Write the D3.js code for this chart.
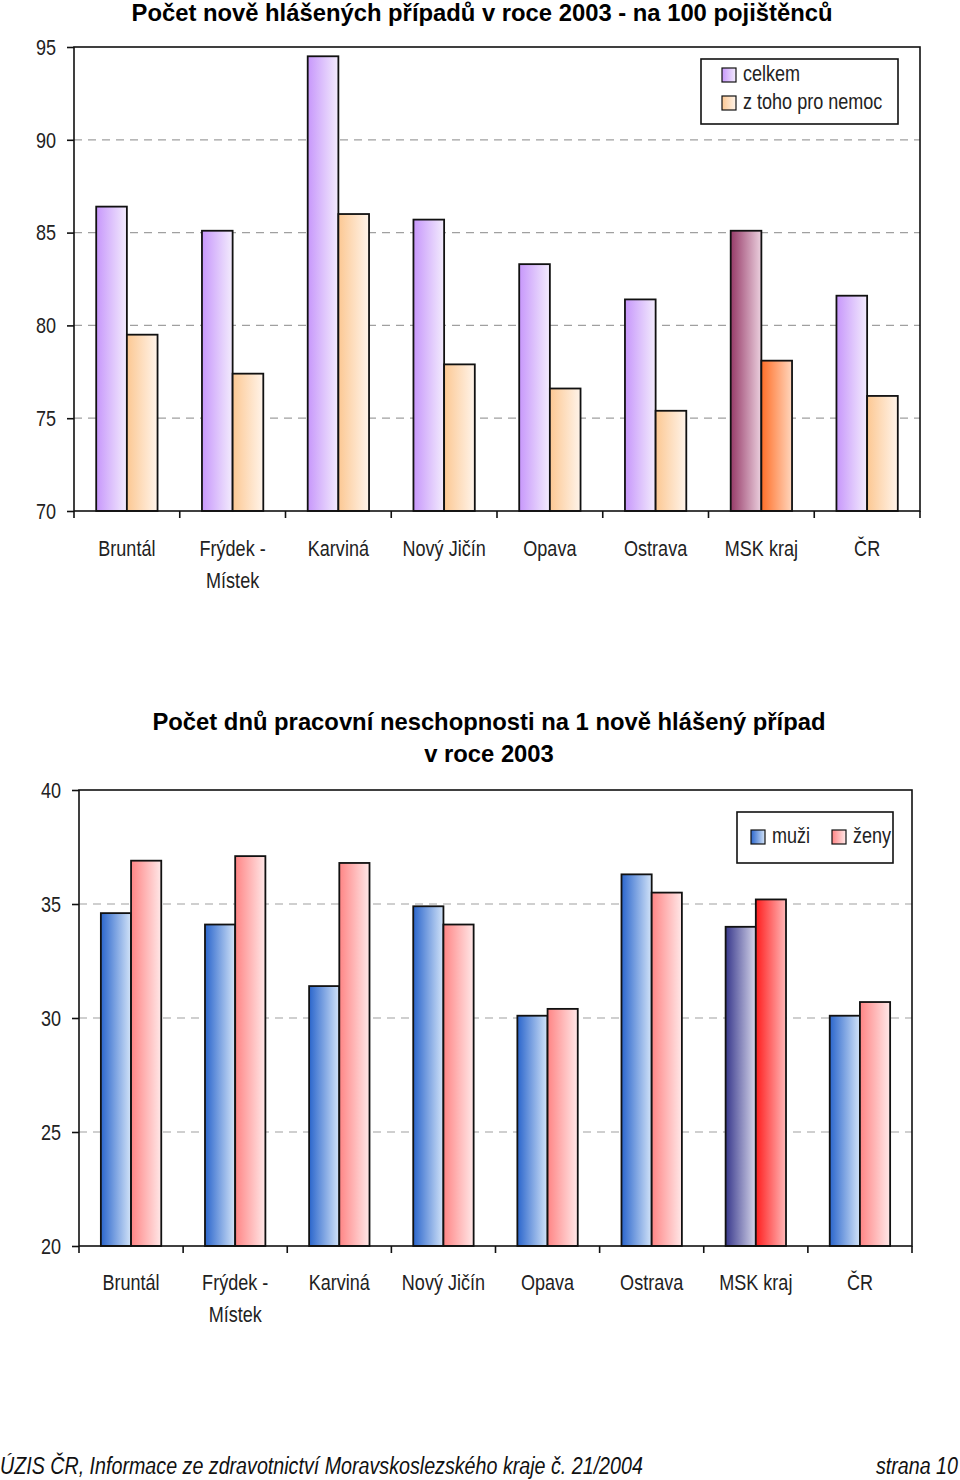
<!DOCTYPE html>
<html><head><meta charset="utf-8">
<script src="https://cdn.jsdelivr.net/npm/d3@7"></script>
<style>
body{margin:0;background:#fff;}
svg{display:block;}
.n{font-family:"Liberation Sans",Arial,sans-serif;}
.b{font-family:"Liberation Sans",Arial,sans-serif;font-weight:bold;}
</style></head>
<body>
<svg id="c" width="960" height="1480"></svg>
<script>
const categories = ["Bruntál","Frýdek - Místek","Karviná","Nový Jičín","Opava","Ostrava","MSK kraj","ČR"];
const celkem = [86.4,85.1,94.5,85.7,83.3,81.4,85.1,81.6];
const nemoc  = [79.5,77.4,86.0,77.9,76.6,75.4,78.1,76.2];
const muzi   = [34.6,34.1,31.4,34.9,30.1,36.3,34.0,30.1];
const zeny   = [36.9,37.1,36.8,34.1,30.4,35.5,35.2,30.7];
const ticksTop = [70,75,80,85,90,95];
const ticksBottom = [20,25,30,35,40];
const title1 = ["Počet nově hlášených případů v roce 2003 - na 100 pojištěnců"];
const title2 = ["Počet dnů pracovní neschopnosti na 1 nově hlášený případ","v roce 2003"];
const seriesTop = ["celkem","z toho pro nemoc"];
const seriesBottom = ["muži","ženy"];
const footerLeft = "ÚZIS ČR, Informace ze zdravotnictví Moravskoslezského kraje č. 21/2004";
const footerRight = "strana 10";

const svg = d3.select("#c");
const defs = svg.append("defs");
function grad(id, c0, c1){
  const g = defs.append("linearGradient").attr("id",id).attr("x1","0%").attr("x2","100%").attr("y1","0%").attr("y2","0%");
  g.append("stop").attr("offset","0%").attr("stop-color",c0);
  g.append("stop").attr("offset","100%").attr("stop-color",c1);
}
grad("gCel","#c797fb","#f3ecfd");
grad("gNem","#fcc893","#fff4ea");
grad("gCelM","#963a68","#ebd0de");
grad("gNemM","#ff6f28","#ffd6bd");
grad("gMuz","#2b66cc","#d2e3f8");
grad("gZen","#ff8585","#ffe8e8");
grad("gMuzM","#38388c","#d6d6ea");
grad("gZenM","#ff1e1e","#ffb8b8");

function ntext(parent, x, y, lines, opt={}){
  const size = opt.size||22, lh = opt.lh||32;
  const t = parent.append("text").attr("class","n").attr("font-size",size).attr("fill",opt.fill||"#222")
    .attr("text-anchor",opt.anchor||"start")
    .attr("transform",`translate(${x},${y}) scale(0.82,1)`);
  if(opt.italic) t.attr("font-style","italic");
  if(opt.dy) t.attr("dy",opt.dy);
  lines.forEach((l,k)=>t.append("tspan").attr("x",0).attr("y",k*lh).text(l));
  return t;
}

function chart(o){
  const g = svg.append("g");
  const x0 = d3.scaleBand().domain(categories).range([o.left,o.right]).padding(0);
  const gap = x0.bandwidth()*0.21;
  const x1 = d3.scaleBand().domain([0,1]).range([gap, x0.bandwidth()-gap]).padding(0);
  const y = d3.scaleLinear().domain(o.domain).range([o.bottom,o.top]);
  g.selectAll(".grid").data(o.ticks.slice(1,-1)).join("line")
    .attr("x1",o.left).attr("x2",o.right).attr("y1",d=>y(d)).attr("y2",d=>y(d))
    .attr("stroke","#a0a0a0").attr("stroke-width",1.2).attr("stroke-dasharray","8,6");
  categories.forEach((c,i)=>{
    o.series.forEach((s,j)=>{
      g.append("rect").attr("x",x0(c)+x1(j)).attr("width",x1.bandwidth())
       .attr("y",y(s[i])).attr("height",o.bottom-y(s[i]))
       .attr("fill", c==="MSK kraj" ? o.fillsM[j] : o.fills[j])
       .attr("stroke","#111").attr("stroke-width",1.8);
    });
  });
  g.append("rect").attr("x",o.left).attr("y",o.top).attr("width",o.right-o.left).attr("height",o.bottom-o.top)
   .attr("fill","none").attr("stroke","#111").attr("stroke-width",1.6);
  const ya = d3.axisLeft(y).tickValues(o.ticks).tickSize(7).tickFormat("");
  const yg = g.append("g").attr("transform",`translate(${o.left},0)`).call(ya);
  yg.select(".domain").remove();
  yg.selectAll(".tick line").attr("stroke","#111").attr("stroke-width",1.6);
  o.ticks.forEach(v=>ntext(g, o.left-18, y(v), [String(v)], {anchor:"end", dy:"0.35em"}));
  const bounds = categories.map(c=>x0(c)).concat([o.right]);
  g.selectAll(".xt").data(bounds).join("line")
   .attr("x1",d=>d).attr("x2",d=>d).attr("y1",o.bottom).attr("y2",o.bottom+7)
   .attr("stroke","#111").attr("stroke-width",1.6);
  categories.forEach(c=>{
    const lines = c.includes(" - ") ? [c.split(" - ")[0]+" -", c.split(" - ")[1]] : [c];
    ntext(g, x0(c)+x0.bandwidth()/2, o.bottom+o.labOff, lines, {anchor:"middle"});
  });
  const tt = g.append("text").attr("class","b").attr("font-size",23.8).attr("fill","#000").attr("text-anchor","middle");
  o.title.forEach((l,k)=>tt.append("tspan").attr("x",o.titleX).attr("y",o.titleY+k*32).text(l));
  const L = o.legend;
  g.append("rect").attr("x",L.x).attr("y",L.y).attr("width",L.w).attr("height",L.h)
   .attr("fill","#fff").attr("stroke","#111").attr("stroke-width",1.6);
  L.items.forEach((it,k)=>{
    g.append("rect").attr("x",it.x).attr("y",it.y).attr("width",14).attr("height",14)
     .attr("fill",o.fills[k]).attr("stroke","#111").attr("stroke-width",1.2);
    ntext(g, it.x+21, it.y+13, [o.names[k]]);
  });
}

chart({left:74,right:920,top:47,bottom:511,domain:[70,95],ticks:ticksTop,
  series:[celkem,nemoc],fills:["url(#gCel)","url(#gNem)"],fillsM:["url(#gCelM)","url(#gNemM)"],
  names:seriesTop,labOff:45,title:title1,titleX:482,titleY:21,
  legend:{x:701,y:59,w:197,h:65,items:[{x:722,y:68},{x:722,y:96}]}});

chart({left:79,right:912,top:790,bottom:1246,domain:[20,40],ticks:ticksBottom,
  series:[muzi,zeny],fills:["url(#gMuz)","url(#gZen)"],fillsM:["url(#gMuzM)","url(#gZenM)"],
  names:seriesBottom,labOff:44,title:title2,titleX:489,titleY:730,
  legend:{x:737,y:812,w:156,h:51,items:[{x:751,y:830},{x:832,y:830}]}});

ntext(svg, 0, 1474, [footerLeft], {italic:true, fill:"#111", size:24});
ntext(svg, 958, 1474, [footerRight], {italic:true, fill:"#111", anchor:"end", size:24});
</script>
</body></html>
